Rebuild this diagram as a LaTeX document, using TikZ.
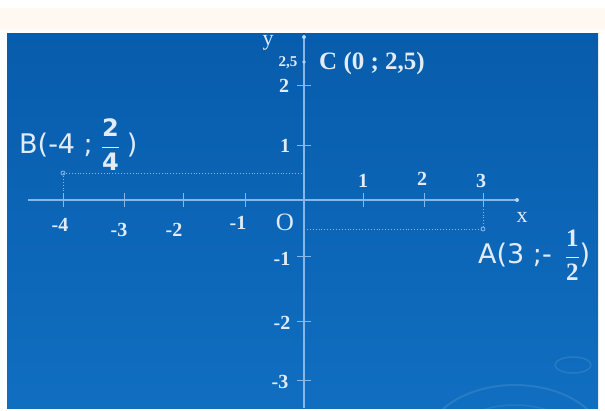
\documentclass[tikz,border=0pt]{standalone}
\usepackage{fontspec}
\usepackage{amsmath}
\setmainfont{Liberation Serif}
\newfontfamily\labsans{DejaVu Sans}
\definecolor{bgtop}{RGB}{8,92,172}
\definecolor{bgbot}{RGB}{16,110,192}
\definecolor{axiscol}{RGB}{135,182,235}
\definecolor{txt}{RGB}{226,236,248}
\tikzset{
  axisline/.style={axiscol, line width=1.1pt},
  tickline/.style={axiscol, line width=0.9pt},
  guide/.style={axiscol, line width=0.9pt, dotted},
  ticklab/.style={txt, font=\fontsize{20}{20}\selectfont\bfseries, inner sep=0pt},
  ptlab/.style={txt, inner sep=0pt, anchor=west},
  ptdot/.style={axiscol, line width=0.8pt}
}
\begin{document}
\begin{tikzpicture}[x=1pt,y=-1pt]
\useasboundingbox (0,0) rectangle (605,410);
\fill[white] (0,0) rectangle (605,410);
\fill[white!95!orange] (0,8) rectangle (605,30);
\shade[top color=bgtop,bottom color=bgbot] (7,33) rectangle (598,408);
% faint background decoration
\begin{scope}
\clip (7,33) rectangle (598,408);
\draw[white, opacity=0.10, line width=2pt] (515,445) ellipse [x radius=90, y radius=60];
\draw[white, opacity=0.08, line width=1.5pt] (515,450) ellipse [x radius=70, y radius=45];
\draw[white, opacity=0.10, line width=1.5pt] (573,365) ellipse [x radius=18, y radius=8];
\end{scope}
% coordinates
\coordinate (O) at (304,200);
\coordinate (xs) at (28,200);
\coordinate (xe) at (517,200);
\coordinate (ys) at (304,408);
\coordinate (ye) at (304,37);
\coordinate (Bp) at (63,173);
\coordinate (Bx) at (63,200);
\coordinate (By) at (304,173);
\coordinate (Ap) at (483,229);
\coordinate (Ax) at (483,200);
\coordinate (Ay) at (304,229);
\coordinate (Cp) at (304,62);
% axes
\draw[axisline] (xs) -- (xe);
\draw[axisline] (ys) -- (ye);
\fill[axiscol!60!white] (xe) circle (2pt);
\fill[axiscol!60!white] (ye) circle (2pt);
% x ticks
\foreach \xx in {63,124,183,245,363,424,483}
  \draw[tickline] (\xx,193) -- (\xx,207);
% y ticks
\foreach \yy in {85,145,256,321,380}
  \draw[tickline] (297,\yy) -- (311,\yy);
% guides
\draw[guide] (Bp) -- (By);
\draw[guide] (Bp) -- (Bx);
\draw[guide] (Ay) -- (Ap);
\draw[guide] (Ax) -- (Ap);
\draw[ptdot] (Bp) circle (2pt);
\draw[ptdot] (Ap) circle (2pt);
\fill[axiscol!60!white] (Cp) circle (1.8pt);
% tick labels
\node[ticklab] (lxm4) at (60,225) {-4};
\node[ticklab] (lxm3) at (119,230) {-3};
\node[ticklab] (lxm2) at (174,230) {-2};
\node[ticklab] (lxm1) at (238,223) {-1};
\node[txt, inner sep=0pt, font=\fontsize{25}{25}\selectfont] (lO) at (285,222) {O};
\node[ticklab] (lx1) at (363,181) {1};
\node[ticklab] (lx2) at (422,179) {2};
\node[ticklab] (lx3) at (481,181) {3};
\node[ticklab] (ly2) at (284,86) {2};
\node[ticklab] (ly1) at (285,146) {1};
\node[ticklab] (lym1) at (282,259) {-1};
\node[ticklab] (lym2) at (282,323) {-2};
\node[ticklab] (lym3) at (280,382) {-3};
\node[txt, inner sep=0pt, font=\fontsize{22}{22}\selectfont] (ly) at (268,43) {y};
\node[txt, inner sep=0pt, font=\fontsize{15}{15}\selectfont\bfseries] (l25) at (288,63) {2,5};
\node[txt, inner sep=0pt, font=\fontsize{22}{22}\selectfont] (lx) at (522,217) {x};
% point labels
\node[ptlab, font=\fontsize{25}{25}\selectfont\bfseries] (C) at (319,63) {C (0 ; 2,5)};
\node[ptlab, font=\fontsize{27}{27}\selectfont\labsans] (B) at (19,145)
  {B(-4 ;\hspace{8pt}$\genfrac{}{}{0.5pt}{0}{\text{\fontsize{24}{24}\selectfont\bfseries 2}}{\text{\fontsize{24}{24}\selectfont\bfseries 4}}$\hspace{7pt})};
\node[ptlab, font=\fontsize{27}{27}\selectfont\labsans] (A) at (478,255)
  {A(3 ;-\hspace{13pt}$\genfrac{}{}{0.5pt}{0}{\text{\fontsize{25}{25}\selectfont\rmfamily\bfseries 1}}{\text{\fontsize{25}{25}\selectfont\rmfamily\bfseries 2}}$)};
\end{tikzpicture}
\end{document}
